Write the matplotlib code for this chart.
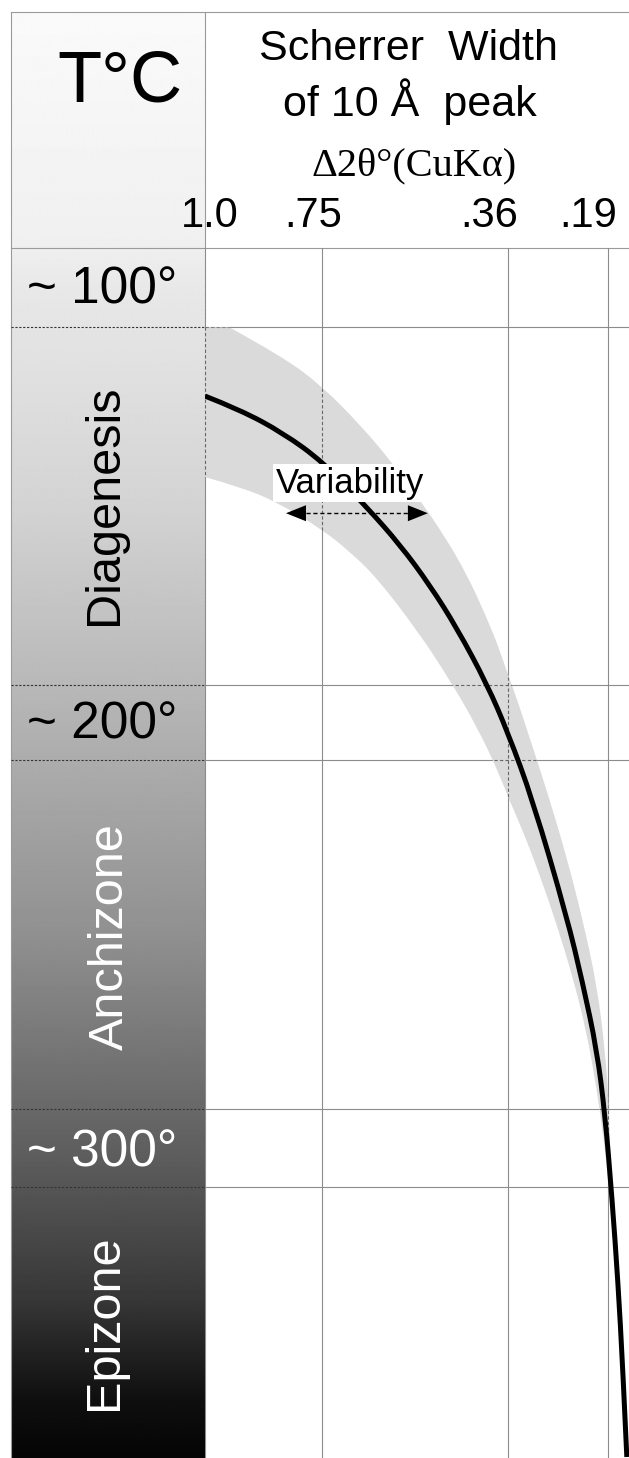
import numpy as np
import matplotlib.pyplot as plt
from matplotlib.path import Path
from matplotlib.patches import PathPatch

plt.rcParams['font.family'] = ['Liberation Sans', 'DejaVu Sans']

# Scherrer width of the 10 A peak (delta 2-theta, CuKa) - column values
width_ticks = [1.0, 0.75, 0.36, 0.19]
width_labels = ['1.0', '.75', '.36', '.19']

# temperature rows (deg C)
temp_vals = [100.5, 201.5, 301.0]
temp_labels = ['~ 100°', '~ 200°', '~ 300°']
row_edges = [109.2, 192.2, 209.6, 290.8, 308.9]
zones = ['Diagenesis', 'Anchizone', 'Epizone']
zone_t = [150.5, 250.6, 340.2]

# mean curve: temperature vs width
curve_t = [125.2, 128.4, 133.8, 140.5, 151.0, 159.8, 169.1, 179.1, 192.1, 203.4,
           219.0, 246.1, 261.5, 277.0, 292.1, 311.8, 331.1, 350.6, 371.5]
curve_w = [1.0, 0.925, 0.833, 0.748, 0.656, 0.586, 0.524, 0.467, 0.404, 0.360,
           0.318, 0.260, 0.233, 0.209, 0.195, 0.183, 0.173, 0.165, 0.158]

# variability band, left (broad) and right (narrow) edges
band_lo_t = [109.2, 144.0, 146.3, 149.8, 156.3, 161.4, 167.4, 179.5, 191.1, 202.0,
             213.2, 224.3, 236.4, 248.0, 259.6, 272.4, 286.3, 297.9, 309.5, 321.1, 332.7]
band_lo_w = [1.0, 1.0, 0.925, 0.846, 0.748, 0.691, 0.635, 0.551, 0.482, 0.425,
             0.377, 0.340, 0.306, 0.277, 0.251, 0.227, 0.209, 0.197, 0.188, 0.180, 0.173]
band_hi_t = [109.3, 116.1, 123.1, 131.9, 140.1, 149.3, 157.9, 166.7, 175.8, 184.2,
             193.4, 206.7, 219.0, 232.4, 246.8, 261.9, 277.0, 291.0, 304.9]
band_hi_w = [0.947, 0.833, 0.748, 0.670, 0.607, 0.545, 0.492, 0.446, 0.408, 0.377,
             0.350, 0.318, 0.289, 0.260, 0.233, 0.209, 0.195, 0.188, 0.185]

# variability arrow
var_t = 152.4
var_w = (0.827, 0.528)

# the width axis is schematic, not linear: piecewise scale through the columns
_sw = np.array([1.0, 0.75, 0.36, 0.19, 0.15])
_sp = np.array([0.0, 117.0, 303.0, 403.0, 426.5])


def fwd(w):
    return -np.interp(-np.asarray(w, dtype=float), -_sw, _sp)


def inv(p):
    return np.interp(-np.asarray(p, dtype=float), _sp, _sw)


def smooth_segs(ws, ts):
    # quadratic b-spline style path through the read points (drawing only)
    pts = np.column_stack([ws, ts]).astype(float)
    verts, codes = [], []
    for i in range(1, len(pts) - 1):
        end = pts[i + 1] if i == len(pts) - 2 else (pts[i] + pts[i + 1]) / 2
        verts += [pts[i], end]
        codes += [Path.CURVE3, Path.CURVE3]
    return pts[0], verts, codes


fig = plt.figure(figsize=(6.29, 14.58), dpi=100)

# page layer in pixel units: frame, header, shaded column
bg = fig.add_axes([0, 0, 1, 1], zorder=0)
bg.set_xlim(0, 629)
bg.set_ylim(1458, 0)
bg.axis('off')

shade_y = [12, 240, 290, 500, 700, 930, 1150, 1300, 1400, 1458]
shade_g = [250, 240, 232, 212, 182, 145, 95, 55, 15, 5]
shade = np.interp(np.arange(12, 1459), shade_y, shade_g)[:, None]
bg.imshow(shade, extent=(11, 205, 1458, 12), cmap='gray', vmin=0, vmax=255,
          aspect='auto', interpolation='bilinear')

frame = '#9a9a9a'
bg.plot([11, 629], [12, 12], color=frame, lw=0.8)
bg.plot([11, 11], [12, 1458], color=frame, lw=0.8)
bg.plot([205, 205], [12, 248], color=frame, lw=0.8)
bg.plot([11, 629], [248, 248], color=frame, lw=0.8)

bg.text(120, 101, 'T°C', fontsize=52, ha='center', va='baseline')
bg.text(408, 60, 'Scherrer  Width', fontsize=31, ha='center', va='baseline')
bg.text(410, 116, 'of 10 Å  peak', fontsize=31, ha='center', va='baseline')
bg.text(414, 175, 'Δ2θ°(CuKα)', fontsize=29, ha='center', va='baseline',
        family=['Liberation Serif', 'DejaVu Serif'])

# main plot
ax = fig.add_axes([205 / 629, 0, 424 / 629, 1210 / 1458], zorder=2)
ax.set_xscale('function', functions=(fwd, inv))
ax.set_xlim(1.0, 0.1543)
ax.set_ylim(371.73, 90.83)
ax.set_axis_off()

grid = '#8c8c8c'
for w in width_ticks:
    ax.axvline(w, color=grid, lw=0.8, zorder=1)
for t in row_edges:
    ax.axhline(t, color=grid, lw=0.8, zorder=1)

# band outline: straight clipped top and left side, smooth flanks
lo0, lo_v, lo_c = smooth_segs(band_lo_w[1:], band_lo_t[1:])
hi0, hi_v, hi_c = smooth_segs(band_hi_w[::-1], band_hi_t[::-1])
verts = [(band_lo_w[0], band_lo_t[0]), lo0] + lo_v + [hi0] + hi_v + [(band_lo_w[0], band_lo_t[0])]
codes = [Path.MOVETO, Path.LINETO] + lo_c + [Path.LINETO] + hi_c + [Path.CLOSEPOLY]
band = PathPatch(Path(verts, codes), fc='#dadada', ec='none', zorder=2)
ax.add_patch(band)
for w in width_ticks:
    ln = ax.axvline(w, color='#666666', lw=0.8, ls=(0, (3, 2)), zorder=3)
    ln.set_clip_path(band)
for t in row_edges:
    ln = ax.axhline(t, color='#666666', lw=0.8, ls=(0, (3, 2)), zorder=3)
    ln.set_clip_path(band)

c0, c_v, c_c = smooth_segs(curve_w, curve_t)
ax.add_patch(PathPatch(Path([c0] + c_v, [Path.MOVETO] + c_c), fill=False,
                       ec='black', lw=3.6, capstyle='butt', zorder=4))

label_dx = [5, -9, -19, -20]
for v, lab, dx in zip(width_ticks, width_labels, label_dx):
    ax.annotate(lab, xy=(v, 1), xycoords=('data', 'axes fraction'),
                xytext=(dx, 21), textcoords='offset pixels', ha='center',
                va='baseline', fontsize=30, annotation_clip=False)

# variability annotation
ax.text(0.691, 145.4, 'Variability', fontsize=25, ha='center', va='center', zorder=6,
        bbox=dict(boxstyle='square,pad=0.08', fc='white', ec='none'))
ax.plot([0.80, 0.555], [var_t, var_t], color='black', lw=1, ls=(0, (3, 2)), zorder=5)
for tip, tail in [(var_w[0], 0.78), (var_w[1], 0.575)]:
    ax.annotate('', xy=(tip, var_t), xytext=(tail, var_t), zorder=5,
                arrowprops=dict(arrowstyle='-|>,head_length=0.8,head_width=0.32',
                                color='black', lw=0, mutation_scale=18,
                                shrinkA=0, shrinkB=0))

# left column: temperatures and zones
lax = fig.add_axes([11 / 629, 0, 194 / 629, 1210 / 1458], sharey=ax, zorder=1)
lax.set_xlim(0, 1)
lax.set_axis_off()
for t in row_edges:
    lax.axhline(t, color='#333333', lw=0.8, ls=(0, (2, 1.5)))
lax.axvline(1.0, color='#555555', lw=0.8, ls=(0, (2, 1.5)))

temp_colors = ['black', 'black', 'white']
for t, lab, c in zip(temp_vals, temp_labels, temp_colors):
    lax.text(0.47, t, lab, fontsize=37, ha='center', va='center', color=c)

zone_colors = ['black', 'white', 'white']
zone_x = [0.48, 0.51, 0.48]
for t, z, c, x in zip(zone_t, zones, zone_colors, zone_x):
    lax.text(x, t, z, fontsize=35, rotation=90, ha='center', va='center', color=c)

fig.savefig('out.png', dpi=100)
plt.close(fig)
